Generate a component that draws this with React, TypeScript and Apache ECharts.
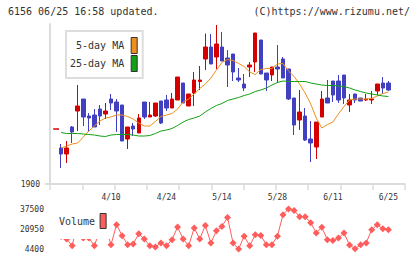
import React, { useEffect, useRef } from 'react';
import * as echarts from 'echarts';

const dates = [
  '3/30', '3/31', '4/1', '4/2', '4/3', '4/6', '4/7', '4/8', '4/9', '4/10',
  '4/13', '4/14', '4/15', '4/16', '4/17', '4/20', '4/21', '4/22', '4/23', '4/24',
  '4/27', '4/28', '4/30', '5/1', '5/7', '5/8', '5/11', '5/12', '5/13', '5/14',
  '5/15', '5/18', '5/19', '5/20', '5/21', '5/22', '5/25', '5/26', '5/27', '5/28',
  '5/29', '6/1', '6/2', '6/3', '6/4', '6/5', '6/8', '6/9', '6/10', '6/11',
  '6/12', '6/15', '6/16', '6/17', '6/18', '6/19', '6/22', '6/23', '6/24', '6/25',
];
const leadBlanks = ['b1', 'b2'];
const tailBlanks = ['a1', 'a2', 'a3'];

const opens = [
  1972, 1960, 2014, 2046, 2070, 2036, 2038, 2050, 2040, 2070,
  2064, 2058, 1990, 2016, 2002, 2064, 2034, 2036, 2066, 2068,
  2052, 2068, 2102, 2056, 2082, 2105, 2150, 2174, 2154, 2174,
  2152, 2160, 2112, 2100, 2134, 2144, 2188, 2122, 2118, 2134,
  2150, 2130, 2072, 2028, 2036, 1990, 1974, 2034, 2072, 2106,
  2106, 2118, 2058, 2080, 2072, 2068, 2068, 2086, 2102, 2102,
];
const closes = [
  1960, 1972, 2004, 2056, 2034, 2032, 2014, 2036, 2046, 2062,
  2046, 1986, 2014, 2010, 2032, 2034, 2038, 2062, 2022, 2052,
  2070, 2114, 2062, 2080, 2108, 2108, 2174, 2140, 2180, 2146,
  2138, 2124, 2108, 2092, 2138, 2202, 2120, 2108, 2134, 2130,
  2112, 2070, 2018, 2044, 1988, 1982, 2024, 2070, 2062, 2078,
  2068, 2072, 2068, 2068, 2066, 2070, 2070, 2100, 2092, 2088,
];
const lows = [
  1932, 1942, 1982, 2006, 2016, 2004, 2014, 2018, 2030, 2048,
  2004, 1986, 1970, 1996, 2002, 2030, 2034, 2034, 2020, 2046,
  2052, 2068, 2062, 2056, 2056, 2088, 2128, 2140, 2130, 2146,
  2094, 2106, 2104, 2086, 2114, 2124, 2120, 2086, 2106, 2102,
  2112, 2068, 1998, 2008, 1986, 1944, 1950, 2034, 2062, 2064,
  2062, 2060, 2044, 2062, 2066, 2066, 2060, 2078, 2080, 2086,
];
const highs = [
  1980, 1986, 2016, 2098, 2070, 2042, 2050, 2058, 2062, 2080,
  2070, 2058, 2014, 2022, 2040, 2064, 2064, 2062, 2066, 2078,
  2082, 2114, 2102, 2080, 2124, 2136, 2201, 2200, 2218, 2204,
  2168, 2160, 2132, 2120, 2144, 2202, 2188, 2122, 2134, 2178,
  2154, 2130, 2072, 2088, 2052, 2026, 2024, 2086, 2108, 2106,
  2118, 2118, 2080, 2080, 2072, 2080, 2086, 2100, 2114, 2106,
];
const ma5 = [
  1972, 1976, 1980, 1982, 1994, 2006, 2016, 2026, 2032, 2034,
  2038, 2038, 2035, 2030, 2022, 2016, 2016, 2025, 2035, 2038,
  2041, 2050, 2064, 2070, 2080, 2091, 2100, 2112, 2128, 2143,
  2149, 2147, 2141, 2135, 2124, 2119, 2129, 2131, 2131, 2140,
  2141, 2126, 2115, 2100, 2082, 2060, 2032, 2012, 2019, 2024,
  2040, 2055, 2068, 2070, 2070, 2070, 2071, 2076, 2081, 2084,
];
const ma25 = [
  2003, 2001, 2001, 2001, 2000, 1999, 1998, 1996, 1995, 1998,
  1999, 1999, 1999, 1998, 1996, 1996, 1997, 2001, 2006, 2008,
  2011, 2017, 2024, 2029, 2032, 2036, 2044, 2051, 2057, 2061,
  2067, 2070, 2073, 2077, 2080, 2085, 2088, 2092, 2098, 2103,
  2106, 2105, 2105, 2105, 2105, 2102, 2100, 2098, 2097, 2097,
  2096, 2095, 2092, 2088, 2085, 2082, 2080, 2078, 2076, 2075,
];
const volumes = [
  14800, 12700, 7100, 27000, 13500, 13500, 7100, 20000, 22000, 8000,
  24500, 15400, 7960, 8500, 17100, 12700, 7100, 6100, 9400, 7100,
  12100, 22600, 12700, 7100, 21800, 12700, 23900, 9400, 19500, 23100,
  30500, 9400, 4400, 15000, 7100, 16200, 15600, 8000, 8000, 15000,
  32800, 37500, 36300, 31100, 31100, 26200, 17600, 22400, 12100, 11400,
  13500, 17600, 7700, 4600, 8000, 9400, 20400, 24500, 21200, 20400,
];
const tickLabels = ['4/10', '4/24', '5/14', '5/28', '6/11', '6/25'];
const priceLabels = [1900];
const volumeLabels = [4400, 20950, 37500];
const refPrice = 2010;
const refSpan = [0.1, 0.28];

const FONT = '"DejaVu Sans Mono", monospace';
const RED = '#d40000';
const BLUE = '#4040c0';
const ORANGE = '#f0901c';
const GREEN = '#14a014';
const VOL = '#ff5c5c';
const AXIS = '#dcdcdc';

function pad<T>(arr: T[]): (T | '-')[] {
  return [...leadBlanks.map(() => '-' as const), ...arr, ...tailBlanks.map(() => '-' as const)];
}

const plain = (v: number) => String(v);

export default function App() {
  const ref = useRef<HTMLDivElement>(null);
  useEffect(() => {
    const chart = echarts.init(ref.current!, null, { renderer: 'svg' });
    const cats = [...leadBlanks, ...dates, ...tailBlanks];
    const candles = pad(dates.map((_, i) => [opens[i], closes[i], lows[i], highs[i]] as any));
    const option: any = {
      animation: false,
      backgroundColor: '#fff',
      title: [
        { text: '6156 06/25 16:58 updated.', left: 8, top: 6, padding: 0,
          textStyle: { fontFamily: FONT, fontSize: 10, fontWeight: 'normal', color: '#333' } },
        { text: '(C)https://www.rizumu.net/', right: 10, top: 6, padding: 0,
          textStyle: { fontFamily: FONT, fontSize: 10, fontWeight: 'normal', color: '#333' } },
      ],
      legend: [
        {
          data: ['5-day MA', '25-day MA'],
          orient: 'vertical', align: 'right', left: 66, top: 31,
          padding: [6, 5, 6, 4], itemGap: 1, itemWidth: 6, itemHeight: 16,
          icon: 'rect', borderColor: '#ddd', borderWidth: 2, backgroundColor: '#fff',
          itemStyle: { borderColor: '#333', borderWidth: 1 },
          textStyle: { fontFamily: FONT, fontSize: 10, color: '#333', padding: [0, 2, 0, 0] },
          selectedMode: false,
        },
        {
          data: ['Volume'],
          orient: 'vertical', align: 'right', left: 56, top: 207,
          padding: [6, 4, 10, 3], itemWidth: 6, itemHeight: 15,
          icon: 'rect', backgroundColor: '#fff',
          itemStyle: { borderColor: '#333', borderWidth: 1 },
          textStyle: { fontFamily: FONT, fontSize: 10, color: '#333' },
          selectedMode: false,
        },
      ],
      grid: [
        { left: 50, right: 15, top: 24, bottom: 75 },
        { left: 50, right: 15, top: 209, bottom: 10 },
      ],
      xAxis: [
        {
          type: 'category', gridIndex: 0, data: cats, boundaryGap: false, position: 'bottom',
          axisLine: { show: true, lineStyle: { color: AXIS, width: 2 } },
          axisTick: { show: false },
          splitLine: { show: false },
          axisLabel: {
            interval: (_i: number, v: string) => tickLabels.includes(v),
            fontFamily: FONT, fontSize: 8, color: '#333', margin: 9,
          },
        },
        {
          type: 'value', gridIndex: 0, min: 0, max: 11, interval: 1, position: 'bottom',
          axisLine: { show: false },
          axisTick: { show: true, length: 6, lineStyle: { color: AXIS, width: 1.5 } },
          axisLabel: { show: false },
          splitLine: { show: false },
        },
        {
          type: 'category', gridIndex: 1, data: cats, boundaryGap: false,
          axisLine: { show: false }, axisTick: { show: false }, axisLabel: { show: false },
          splitLine: { show: false },
        },
      ],
      yAxis: [
        {
          type: 'value', gridIndex: 0, min: 1900, max: 2220,
          axisLine: { show: true, lineStyle: { color: AXIS, width: 2 } },
          axisTick: { show: true, customValues: priceLabels, length: 5, lineStyle: { color: AXIS, width: 2 } },
          axisLabel: { customValues: priceLabels, formatter: plain, fontFamily: FONT, fontSize: 8, color: '#333', margin: 10 },
          splitLine: { show: false },
        },
        {
          type: 'value', gridIndex: 1, min: 4400, max: 37500,
          axisLine: { show: false }, axisTick: { show: false },
          axisLabel: { customValues: volumeLabels, formatter: plain, fontFamily: FONT, fontSize: 8, color: '#333', margin: 6 },
          splitLine: { show: false },
        },
      ],
      series: [
        {
          type: 'candlestick', name: 'price', xAxisIndex: 0, yAxisIndex: 0,
          data: candles, barWidth: 4,
          itemStyle: { color: RED, color0: BLUE, borderColor: RED, borderColor0: BLUE, borderWidth: 1 },
        },
        {
          type: 'line', name: '5-day MA', xAxisIndex: 0, yAxisIndex: 0, data: pad(ma5),
          symbol: 'none', color: ORANGE, lineStyle: { width: 1, color: ORANGE },
        },
        {
          type: 'line', name: '25-day MA', xAxisIndex: 0, yAxisIndex: 0, data: pad(ma25),
          symbol: 'none', color: GREEN, lineStyle: { width: 1, color: GREEN },
        },
        {
          type: 'line', name: 'ref', xAxisIndex: 1, yAxisIndex: 0,
          data: refSpan.map((x) => [x, refPrice]),
          symbol: 'none', lineStyle: { width: 1.5, color: RED },
        },
        {
          type: 'line', name: 'Volume', xAxisIndex: 2, yAxisIndex: 1, data: pad(volumes),
          symbol: 'diamond', symbolSize: 7, showSymbol: true, showAllSymbol: true, color: VOL,
          itemStyle: { color: VOL }, lineStyle: { width: 1, color: VOL },
        },
      ],
    };
    chart.setOption(option);
    return () => chart.dispose();
  }, []);
  return <div ref={ref} style={{ position: 'fixed', left: 0, top: 0, width: 420, height: 259 }} />;
}
